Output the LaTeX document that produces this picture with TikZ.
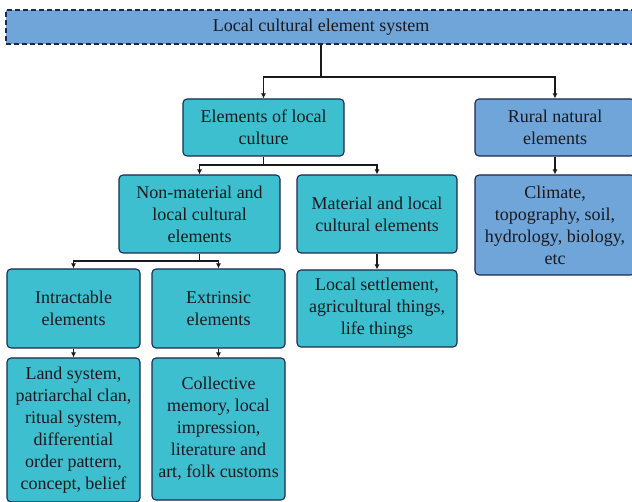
\documentclass[tikz,border=0pt]{standalone}
\usepackage{fontspec}
\setmainfont{Liberation Serif}
\usetikzlibrary{arrows.meta}
\definecolor{cyanfill}{RGB}{62,191,208}
\definecolor{bluefill}{RGB}{111,165,217}
\definecolor{edgec}{RGB}{28,40,80}
\definecolor{inkc}{RGB}{25,25,30}
\tikzset{
  box/.style={draw=edgec, line width=1.1pt, rounded corners=4pt, text=inkc,
    align=center, inner sep=0pt, font=\fontsize{18}{22}\selectfont},
  cbox/.style={box, fill=cyanfill},
  bbox/.style={box, fill=bluefill},
  link/.style={draw=inkc, line width=1.1pt, -{Latex[length=5pt,width=5pt]}},
  wire/.style={draw=inkc, line width=1.1pt}
}
\begin{document}
\begin{tikzpicture}[x=1pt,y=-1pt]
\useasboundingbox (0,0) rectangle (632,502);
% root bar
\node[box, fill=bluefill, rounded corners=0pt, dashed, dash pattern=on 5pt off 3pt,
  minimum width=630pt, minimum height=34pt] (root) at (321,27) {Local cultural element system};
% second level
\node[cbox, minimum width=161pt, minimum height=57pt] (elem) at (263.5,127.5) {Elements of local\\culture};
\node[bbox, minimum width=160pt, minimum height=57pt] (rural) at (555,127.5) {Rural natural\\elements};
% third level
\node[cbox, minimum width=161pt, minimum height=78pt] (nonmat) at (199.5,214) {Non-material and\\local cultural\\elements};
\node[cbox, minimum width=160pt, minimum height=78pt] (mat) at (377,214) {Material and local\\cultural elements};
\node[bbox, minimum width=160pt, minimum height=100pt] (nat) at (555,225) {Climate,\\topography, soil,\\hydrology, biology,\\etc};
% fourth level
\node[cbox, minimum width=133pt, minimum height=79pt] (intr) at (73.5,308.5) {Intractable\\elements};
\node[cbox, minimum width=133pt, minimum height=79pt] (extr) at (218.5,308.5) {Extrinsic\\elements};
\node[cbox, minimum width=160pt, minimum height=77pt] (settle) at (377,308.5) {Local settlement,\\agricultural things,\\life things};
% leaves
\node[cbox, minimum width=133pt, minimum height=144pt] (land) at (73.5,430) {Land system,\\patriarchal clan,\\ritual system,\\differential\\order pattern,\\concept, belief};
\node[cbox, minimum width=133pt, minimum height=142pt] (coll) at (218.5,429) {Collective\\memory, local\\impression,\\literature and\\art, folk customs};
% connectors
\coordinate (j1) at (321,77);
\coordinate (j2) at (263.5,165);
\coordinate (j3) at (199.5,261);
\draw[wire] (root.south) -- (j1);
\draw[link] (j1) -| (elem.north);
\draw[link] (j1) -| (rural.north);
\draw[wire] (elem.south) -- (j2);
\draw[link] (j2) -| (nonmat.north);
\draw[link] (j2) -| (mat.north);
\draw[link] (rural.south) -- (nat.north);
\draw[wire] (nonmat.south) -- (j3);
\draw[link] (j3) -| (intr.north);
\draw[link] (j3) -| (extr.north);
\draw[link] (mat.south) -- (settle.north);
\draw[link] (intr.south) -- (land.north);
\draw[link] (extr.south) -- (coll.north);
\end{tikzpicture}
\end{document}
